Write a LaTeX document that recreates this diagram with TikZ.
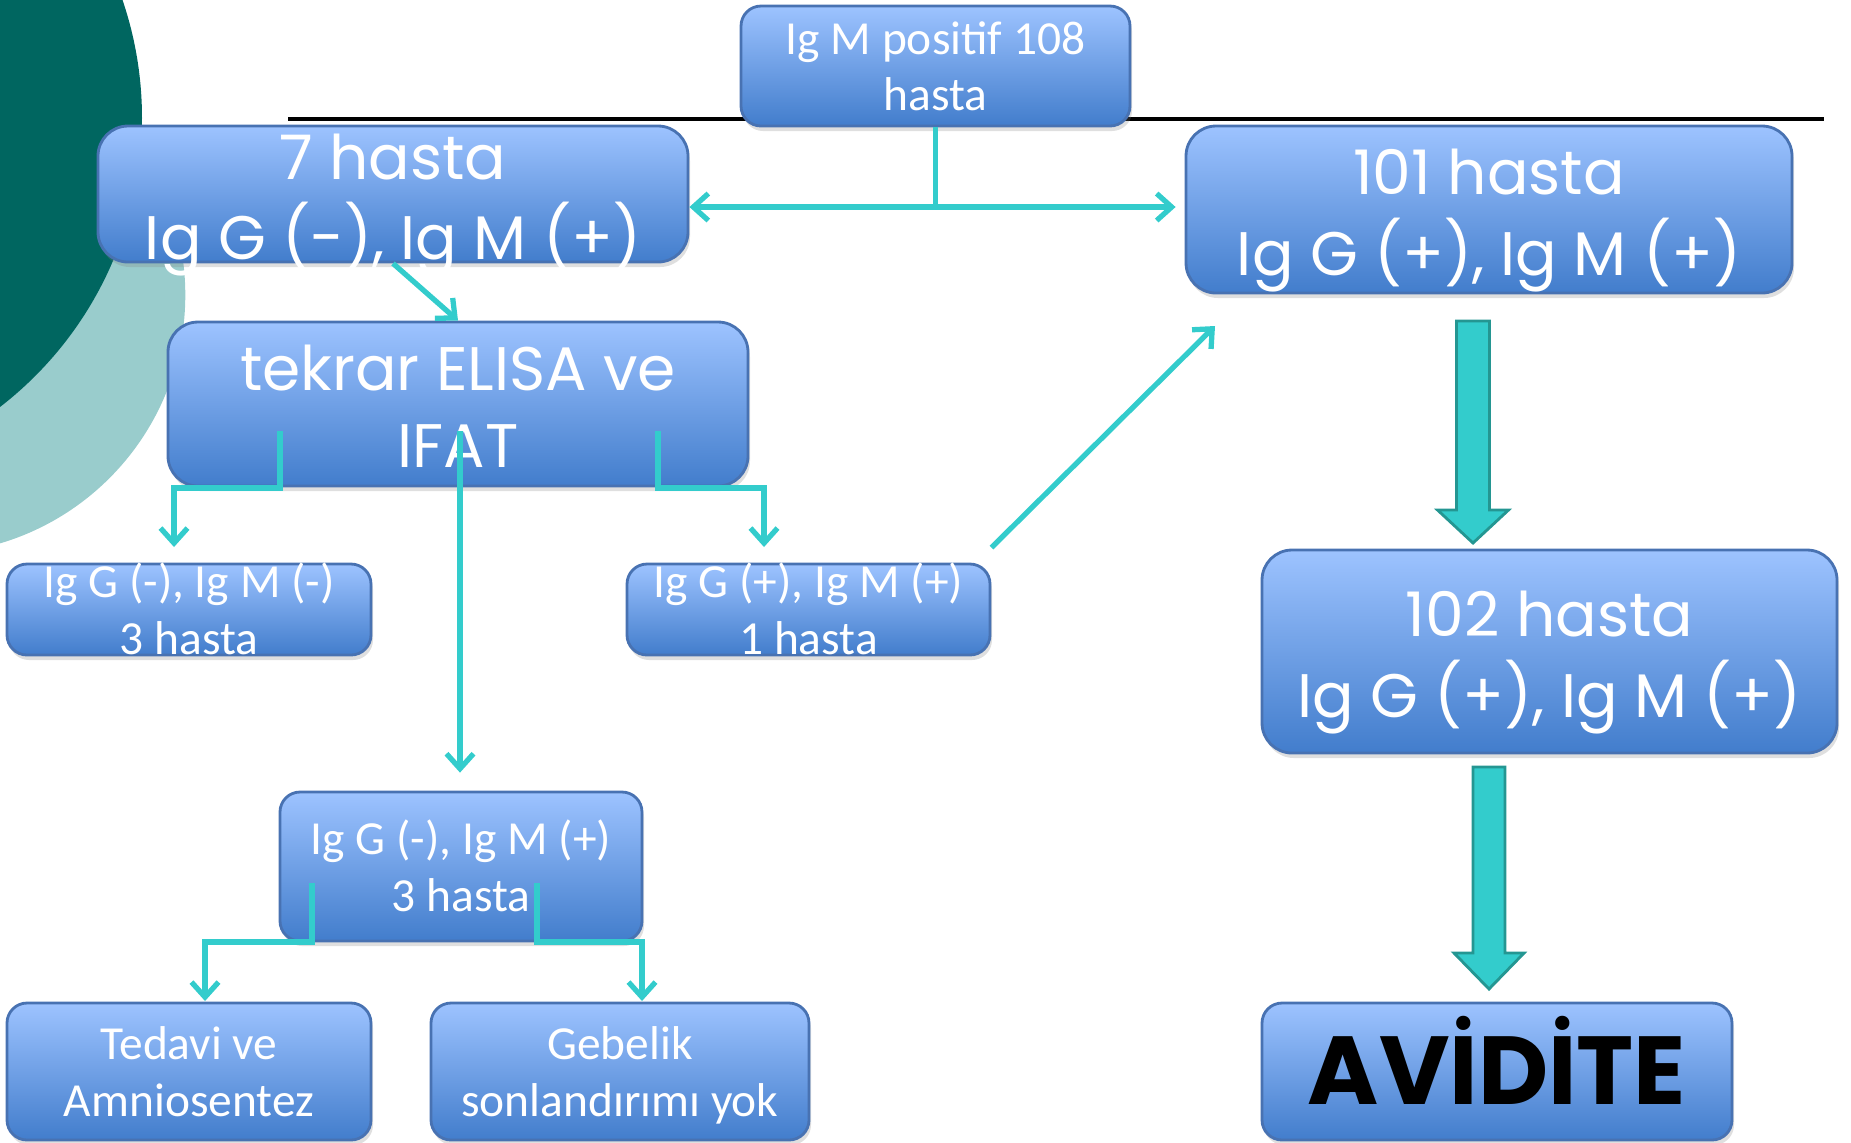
\documentclass[tikz,border=0pt]{standalone}
\usepackage{fontspec}
\usetikzlibrary{arrows.meta,shadows,calc}
\newfontfamily\calib{Carlito}
\newfontfamily\comic{Poppins}
\definecolor{darkteal}{RGB}{0,102,96}
\definecolor{lightteal}{RGB}{153,204,204}
\definecolor{boxtop}{RGB}{157,195,255}
\definecolor{boxbottom}{RGB}{66,125,204}
\definecolor{boxline}{RGB}{72,114,178}
\definecolor{linkcol}{RGB}{51,204,204}
\definecolor{bigline}{RGB}{36,150,146}
\newcommand{\boxtext}[2][3pt]{\vbox to 0pt{\vss\kern#1\hbox{\begin{tabular}{@{}c@{}}#2\end{tabular}}\vss}}

\begin{document}
\begin{tikzpicture}[>={Straight Barb[length=0.15cm,width=0.27cm]}, line join=miter]
      \tikzstyle{box}=[rectangle,rounded corners=0.2cm,draw=boxline,line width=0.8pt,top color=boxtop,bottom color=boxbottom,text=white,inner sep=0pt,drop shadow={shadow xshift=0.02cm,shadow yshift=-0.05cm,opacity=0.25}]
      \tikzstyle{bigbox}=[box,rounded corners=0.3cm]
      \tikzstyle{calibtext}=[font={\calib\fontsize{13.5}{16}\selectfont}]
      \tikzstyle{comictext}=[font={\comic\fontsize{17.5}{22}\selectfont}]
      \tikzstyle{link}=[draw=linkcol,line width=1.5pt,->]
      \tikzstyle{bigarrow}=[draw=bigline,fill=linkcol,line width=0.8pt]

      \useasboundingbox (0,0) rectangle (18.51,-11.42);
      \fill[lightteal] (-0.737,-2.95) circle (2.59);
      \fill[darkteal] (-2.23,-1.18) circle (3.65);
      \draw[black,line width=1pt] (2.88,-1.19) -- (18.24,-1.19);

      \node[box,calibtext,minimum width=3.89cm,minimum height=1.20cm]    (top)     at (9.355,-0.66)   {\boxtext{Ig M positif 108\\hasta}};
      \node[bigbox,comictext,minimum width=5.90cm,minimum height=1.36cm] (b7)      at (3.93,-1.94)    {\boxtext[5.6pt]{7 hasta\\Ig G (-), Ig M (+)}};
      \node[bigbox,comictext,minimum width=6.06cm,minimum height=1.67cm] (b101)    at (14.89,-2.095)  {\boxtext[5.6pt]{101 hasta\\Ig G (+), Ig M (+)}};
      \node[bigbox,comictext,minimum width=5.80cm,minimum height=1.64cm] (tekrar)  at (4.58,-4.04)    {\boxtext[5.6pt]{tekrar ELISA ve\\IFAT}};
      \node[box,calibtext,minimum width=3.64cm,minimum height=0.91cm]    (neg)     at (1.89,-6.095)   {\boxtext{Ig G (-), Ig M (-)\\3 hasta}};
      \node[box,calibtext,minimum width=3.63cm,minimum height=0.91cm]    (pos)     at (8.085,-6.095)  {\boxtext{Ig G (+), Ig M (+)\\1 hasta}};
      \node[bigbox,comictext,minimum width=5.75cm,minimum height=2.03cm] (b102)    at (15.495,-6.515) {\boxtext[5.6pt]{102 hasta\\Ig G (+), Ig M (+)}};
      \node[box,calibtext,minimum width=3.62cm,minimum height=1.49cm]    (mid)     at (4.61,-8.665)   {\boxtext{Ig G (-), Ig M (+)\\3 hasta}};
      \node[box,calibtext,minimum width=3.64cm,minimum height=1.37cm]    (tedavi)  at (1.89,-10.715)  {\boxtext{Tedavi ve\\Amniosentez}};
      \node[box,calibtext,minimum width=3.78cm,minimum height=1.37cm]    (gebelik) at (6.20,-10.715)  {\boxtext{Gebelik\\sonlandırımı yok}};
      \node[box,text=black,font={\comic\bfseries\fontsize{27.5}{32}\selectfont},minimum width=4.70cm,minimum height=1.37cm] (avidite) at (14.97,-10.715) {\boxtext{AVİDİTE}};

      \coordinate (split) at (9.355,-2.07);
      \coordinate (tl)    at (2.80,-4.31);
      \coordinate (tm)    at (4.60,-4.31);
      \coordinate (tr)    at (6.58,-4.31);
      \coordinate (negin) at (1.74,-5.47);
      \coordinate (posin) at (7.64,-5.47);
      \coordinate (hit)   at (12.15,-3.26);
      \coordinate (ml)    at (3.12,-8.83);
      \coordinate (mr)    at (5.37,-8.83);
      \coordinate (tedin) at (2.05,-10.01);
      \coordinate (gebin) at (6.42,-10.01);

      \draw[link,-] (top.south) -- (split);
      \draw[link] (split) -- (split -| b7.east);
      \draw[link] (split) -- ([xshift=-0.09cm]split -| b101.west);
      \draw[link] (b7.south) -- (tekrar.north);
      \draw[link] (tl) -- ++(0,-0.57) -| (negin);
      \draw[link] (tr) -- ++(0,-0.57) -| (posin);
      \draw[link,shorten >=0.18cm] (tm) -- (tm |- mid.north);
      \draw[link] ([yshift=0.15cm]pos.north east) -- (hit);
      \draw[link] (ml) -- ++(0,-0.59) -| (tedin);
      \draw[link] (mr) -- ++(0,-0.59) -| (gebin);

      \draw[bigarrow] (14.565,-3.21) -- ++(0.33,0) -- ++(0,-1.89) -- ++(0.19,0) -- ++(-0.355,-0.33) -- ++(-0.355,0.33) -- ++(0.19,0) -- cycle;
      \draw[bigarrow] (14.73,-7.67) -- ++(0.32,0) -- ++(0,-1.86) -- ++(0.19,0) -- ++(-0.35,-0.36) -- ++(-0.35,0.36) -- ++(0.19,0) -- cycle;
\end{tikzpicture}
\end{document}
